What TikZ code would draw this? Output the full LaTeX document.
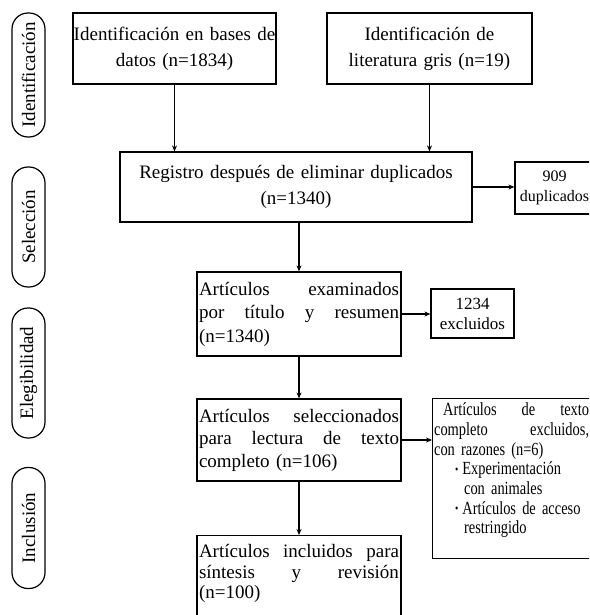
\documentclass[tikz,border=0pt]{standalone}
\usepackage{fontspec}
\setmainfont{Liberation Serif}
\newfontfamily\narrowserif[FakeStretch=0.78]{Liberation Serif}
\usetikzlibrary{arrows.meta}
\newcommand{\jl}[1]{\makebox[\hsize][s]{\spaceskip=0pt\xspaceskip=0pt #1}}
\newcommand{\smallbullet}{\raisebox{1.5pt}{\fontsize{12}{12}\selectfont\textbullet}}

\begin{document}
\begin{tikzpicture}[>={Stealth[length=6pt,width=5pt]}, x=1pt, y=-1pt,
  box/.style={draw, line width=1.2pt, inner xsep=2pt, inner ysep=3pt, align=center,
    font=\fontsize{19}{26}\selectfont},
  jbox/.style={box, align=left, text width=200pt, font=\fontsize{19}{23.5}\selectfont},
  numbox/.style={box, font=\fontsize{16}{20}\selectfont},
  phase/.style={draw, line width=1.2pt, rounded corners=16pt, rotate=90,
    minimum width=#1, minimum height=33pt, inner sep=0pt, font=\fontsize{19}{20}\selectfont},
  link/.style={->, line width=1.2pt}]
  \clip (0,0) rectangle (589,615);

  \node[phase=124pt] (ident) at (28.5,75) {Identificación};
  \node[phase=120pt] (selec) at (28.5,227) {Selección};
  \node[phase=130pt] (eleg) at (28.5,373) {Elegibilidad};
  \node[phase=121pt] (incl) at (28.5,528) {Inclusión};

  \node[box, inner xsep=0pt, text width=203pt, minimum height=71pt] (db) at (174.5,48.5)
    {Identificación en bases de\\datos (n=1834)};
  \node[box, inner xsep=0pt, text width=205pt, minimum height=71pt] (gris) at (429.5,48.5)
    {Identificación de\\literatura gris (n=19)};
  \node[box, text width=348pt, minimum height=70pt] (reg) at (296,187)
    {Registro después de eliminar duplicados\\(n=1340)};
  \node[numbox, text width=75pt, minimum height=52pt] (dup) at (554.5,188)
    {909\\duplicados};
  \node[jbox, minimum height=84pt] (exam) at (299,314)
    {\jl{Artículos examinados}\\\jl{por título y resumen}\\(n=1340)};
  \node[numbox, text width=79pt, minimum height=49pt, font=\fontsize{17}{20}\selectfont]
    (excl) at (472.5,313.5) {1234\\excluidos};
  \node[jbox, minimum height=82pt, font=\fontsize{19}{22.5}\selectfont] (sel) at (299,440)
    {\jl{Artículos seleccionados}\\\jl{para lectura de texto}\\completo (n=106)};
  \node[box, align=left, anchor=north west, inner xsep=1.5pt, text width=155pt,
    text height=14pt, text depth=140pt, font=\narrowserif\fontsize{18.5}{19.7}\selectfont]
    (full) at (432,398)
    {\jl{\hspace*{9pt}Artículos de texto}\\
     \jl{completo excluidos,}\\
     con razones (n=6)\\
     \hspace*{21pt}\smallbullet\hspace{4pt}Experimentación\\
     \hspace*{30pt}con animales\\
     \hspace*{21pt}\smallbullet\hspace{4pt}Artículos de acceso\\
     \hspace*{30pt}restringido};
  \node[jbox, anchor=north, text height=19pt, text depth=70pt,
    font=\fontsize{19}{20.5}\selectfont] (inc) at (299,535)
    {\jl{Artículos incluidos para}\\\jl{síntesis y revisión}\\(n=100)};

  \draw[link] (db.south) -- (db.south |- reg.north);
  \draw[link] (gris.south) -- (gris.south |- reg.north);
  \draw[link] (reg.east) -- (reg.east -| dup.west);
  \draw[link] (reg.south -| exam.north) -- (exam.north);
  \draw[link] (exam.east) -- (exam.east -| excl.west);
  \draw[link] (exam.south) -- (sel.north);
  \draw[link] (sel.east) -- (sel.east -| full.west);
  \draw[link] (sel.south) -- (inc.north);
\end{tikzpicture}
\end{document}
